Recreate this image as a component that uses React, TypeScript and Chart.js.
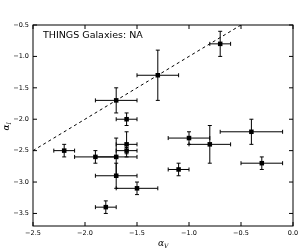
import React, { useEffect, useRef } from "react";
import { Chart, registerables } from "chart.js";

Chart.register(...registerables);

const xVals = [-0.7, -1.3, -1.7, -1.6, -1.6, -1.6, -2.2, -1.9, -1.7, -1.7, -1.5, -1.8, -1.1, -1.0, -0.8, -0.4, -0.3];
const yVals = [-0.8, -1.3, -1.7, -2.0, -2.4, -2.5, -2.5, -2.6, -2.6, -2.9, -3.1, -3.4, -2.8, -2.3, -2.4, -2.2, -2.7];
const xErr = [0.1, 0.2, 0.2, 0.1, 0.1, 0.1, 0.1, 0.2, 0.2, 0.2, 0.2, 0.1, 0.1, 0.2, 0.2, 0.3, 0.2];
const yErr = [0.2, 0.4, 0.2, 0.1, 0.2, 0.05, 0.1, 0.1, 0.3, 0.2, 0.1, 0.1, 0.1, 0.1, 0.3, 0.2, 0.1];

const lineX = [-2.5, -0.5];
const lineY = [-2.5, -0.5];

const xTicks = [-2.5, -2.0, -1.5, -1.0, -0.5, 0.0];
const yTicks = [-3.5, -3.0, -2.5, -2.0, -1.5, -1.0, -0.5];

const titleText = "THINGS Galaxies: NA";

const fmt = (v: number) => (v < 0 ? "\u2212" : "") + Math.abs(v).toFixed(1);

const errorBarPlugin = {
  id: "errorBars",
  beforeDatasetsDraw(chart: any) {
    const ctx = chart.ctx;
    const xs = chart.scales.x;
    const ys = chart.scales.y;
    const ca = chart.chartArea;
    ctx.save();
    ctx.beginPath();
    ctx.rect(ca.left, ca.top, ca.right - ca.left, ca.bottom - ca.top);
    ctx.clip();
    ctx.strokeStyle = "#000";
    ctx.lineWidth = 1;
    const cap = 2;
    for (let i = 0; i < xVals.length; i++) {
      const px = xs.getPixelForValue(xVals[i]);
      const py = ys.getPixelForValue(yVals[i]);
      const x0 = xs.getPixelForValue(xVals[i] - xErr[i]);
      const x1 = xs.getPixelForValue(xVals[i] + xErr[i]);
      const y0 = ys.getPixelForValue(yVals[i] - yErr[i]);
      const y1 = ys.getPixelForValue(yVals[i] + yErr[i]);
      ctx.beginPath();
      ctx.moveTo(x0, py);
      ctx.lineTo(x1, py);
      ctx.moveTo(px, y0);
      ctx.lineTo(px, y1);
      ctx.moveTo(x0, py - cap);
      ctx.lineTo(x0, py + cap);
      ctx.moveTo(x1, py - cap);
      ctx.lineTo(x1, py + cap);
      ctx.moveTo(px - cap, y0);
      ctx.lineTo(px + cap, y0);
      ctx.moveTo(px - cap, y1);
      ctx.lineTo(px + cap, y1);
      ctx.stroke();
    }
    ctx.restore();
  },
  afterDraw(chart: any) {
    const ctx = chart.ctx;
    const xs = chart.scales.x;
    const ys = chart.scales.y;
    const ca = chart.chartArea;
    ctx.save();
    ctx.strokeStyle = "#000";
    ctx.lineWidth = 1;
    ctx.strokeRect(ca.left, ca.top, ca.right - ca.left, ca.bottom - ca.top);
    const tl = 4;
    ctx.beginPath();
    for (const v of xTicks) {
      const p = xs.getPixelForValue(v);
      ctx.moveTo(p, ca.bottom);
      ctx.lineTo(p, ca.bottom - tl);
      ctx.moveTo(p, ca.top);
      ctx.lineTo(p, ca.top + tl);
    }
    for (const v of yTicks) {
      const p = ys.getPixelForValue(v);
      ctx.moveTo(ca.left, p);
      ctx.lineTo(ca.left + tl, p);
      ctx.moveTo(ca.right, p);
      ctx.lineTo(ca.right - tl, p);
    }
    ctx.stroke();

    // title inside plot
    ctx.fillStyle = "#000";
    ctx.font = "9.5px 'DejaVu Sans'";
    ctx.textAlign = "left";
    ctx.textBaseline = "middle";
    ctx.fillText(titleText, ca.left + 10, ca.top + 11);

    // x axis label
    const xl = (ca.left + ca.right) / 2;
    ctx.font = "italic 9px 'DejaVu Serif'";
    ctx.textBaseline = "alphabetic";
    ctx.textAlign = "left";
    const aw = ctx.measureText("\u03b1").width;
    ctx.fillText("\u03b1", xl - 5, 246);
    ctx.font = "italic 6px 'DejaVu Serif'";
    ctx.fillText("V", xl - 5 + aw, 248);

    // y axis label
    ctx.save();
    ctx.translate(9, (ca.top + ca.bottom) / 2);
    ctx.rotate(-Math.PI / 2);
    ctx.font = "italic 9px 'DejaVu Serif'";
    ctx.fillText("\u03b1", -5, 0);
    ctx.font = "italic 6px 'DejaVu Serif'";
    ctx.fillText("I", -5 + aw, 2);
    ctx.restore();
    ctx.restore();
  },
};

export default function App() {
  const ref = useRef<HTMLCanvasElement | null>(null);
  useEffect(() => {
    if (!ref.current) return;
    const chart = new Chart(ref.current, {
      type: "scatter",
      data: {
        datasets: [
          {
            type: "line" as any,
            data: lineX.map((x, i) => ({ x, y: lineY[i] })),
            borderColor: "#000",
            borderWidth: 1,
            borderDash: [3, 3],
            pointRadius: 0,
            fill: false,
          },
          {
            data: xVals.map((x, i) => ({ x, y: yVals[i] })),
            pointStyle: "rect",
            pointRadius: 3.2,
            backgroundColor: "#000",
            borderColor: "#000",
            borderWidth: 0,
          },
        ],
      },
      options: {
        responsive: false,
        animation: false,
        layout: { padding: { top: 25, right: 9, left: 0, bottom: 0 } },
        plugins: { legend: { display: false }, tooltip: { enabled: false }, title: { display: false } },
        scales: {
          x: {
            type: "linear",
            min: -2.5,
            max: 0,
            grid: { display: false, drawTicks: false },
            border: { display: false },
            afterBuildTicks: (s: any) => {
              s.ticks = xTicks.map((v) => ({ value: v }));
            },
            afterFit: (s: any) => {
              s.height = 26;
            },
            ticks: {
              padding: 3,
              color: "#000",
              font: { family: "'DejaVu Sans'", size: 6.5 },
              maxRotation: 0,
              callback: (v: any) => fmt(Number(v)),
            },
          },
          y: {
            type: "linear",
            min: -3.7,
            max: -0.5,
            grid: { display: false, drawTicks: false },
            border: { display: false },
            afterBuildTicks: (s: any) => {
              s.ticks = yTicks.map((v) => ({ value: v }));
            },
            afterFit: (s: any) => {
              s.width = 33;
            },
            ticks: {
              padding: 4,
              color: "#000",
              font: { family: "'DejaVu Sans'", size: 6.5 },
              callback: (v: any) => fmt(Number(v)),
            },
          },
        },
      },
      plugins: [errorBarPlugin],
    });
    return () => chart.destroy();
  }, []);
  return (
    <canvas
      ref={ref}
      width={302}
      height={252}
      style={{ position: "fixed", left: 0, top: 0, width: 302, height: 252 }}
    />
  );
}
